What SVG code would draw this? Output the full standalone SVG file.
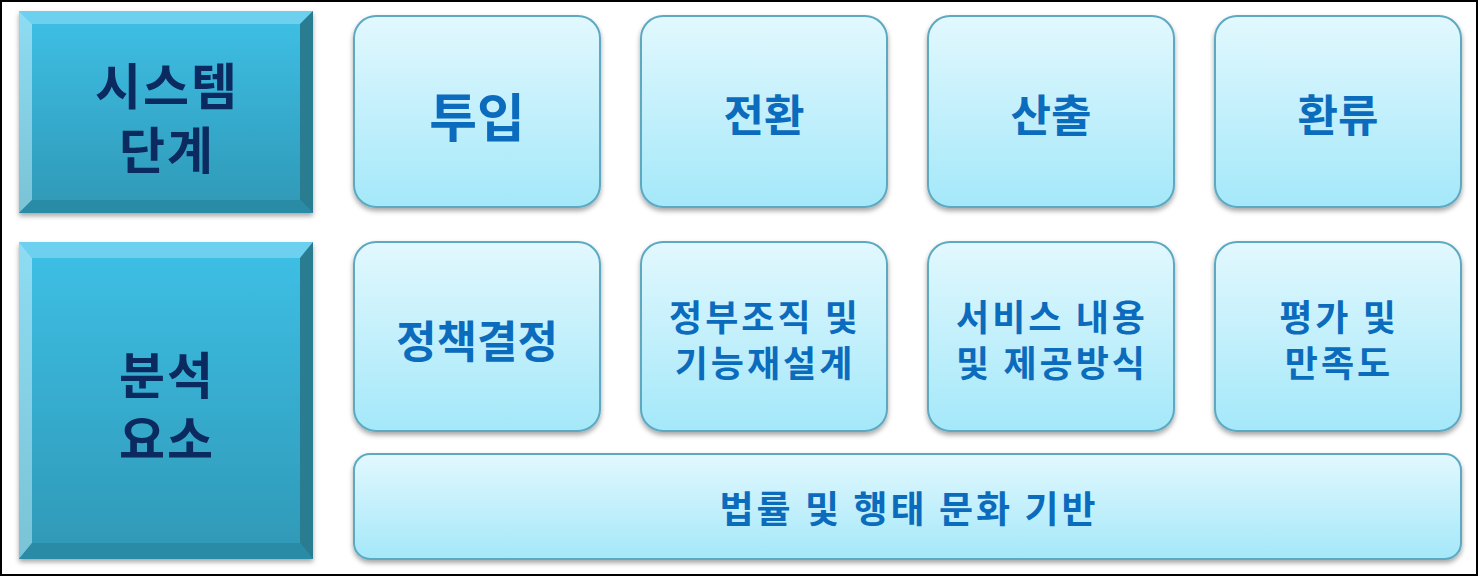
<svg xmlns="http://www.w3.org/2000/svg" width="1479" height="577" viewBox="0 0 1479 577">
<defs>
<linearGradient id="gBox" x1="0" y1="0" x2="0" y2="1">
<stop offset="0" stop-color="#e2f8fe"/>
<stop offset="1" stop-color="#a4e8f9"/>
</linearGradient>
<linearGradient id="gBev" x1="0" y1="0" x2="0" y2="1">
<stop offset="0" stop-color="#3ec0e6"/>
<stop offset="1" stop-color="#2f98b6"/>
</linearGradient>
<linearGradient id="gLeft" x1="0" y1="0" x2="0" y2="1">
<stop offset="0" stop-color="#8edcf3"/>
<stop offset="1" stop-color="#7ac3d6"/>
</linearGradient>
<filter id="sh" x="-10%" y="-10%" width="120%" height="130%">
<feDropShadow dx="0" dy="3" stdDeviation="2.5" flood-color="#000" flood-opacity="0.35"/>
</filter>
</defs>
<style>
.box{fill:url(#gBox);stroke:#5da9c2;stroke-width:2;filter:url(#sh)}
.lt{font-family:"Noto Sans CJK KR","Noto Sans",sans-serif;font-weight:bold;fill:#0b2a60;text-anchor:middle;font-size:50px;letter-spacing:2px}
.rt{font-family:"Noto Sans CJK KR","Noto Sans",sans-serif;font-weight:bold;fill:#0b6bbd;text-anchor:middle}
.top{fill:#6dd0ee}.rgt{fill:#2b7b91}.bot{fill:#2b8ba6}
</style>
<rect x="1" y="1" width="1476" height="574" fill="#fff" stroke="#000" stroke-width="2"/>

<g id="n-system">
<g filter="url(#sh)">
<rect x="19" y="11" width="294" height="202" fill="url(#gBev)"/>
<polygon class="top" points="19,11 313,11 300,24 32,24"/>
<polygon fill="url(#gLeft)" points="19,11 32,24 32,200 19,213"/>
<polygon class="rgt" points="313,11 313,213 300,200 300,24"/>
<polygon class="bot" points="19,213 313,213 300,200 32,200"/>
</g>
<text class="lt"><tspan x="167" y="105">시스템</tspan><tspan x="167" y="169">단계</tspan></text>
</g>

<g id="n-analysis">
<g filter="url(#sh)">
<rect x="19" y="242" width="294" height="317" fill="url(#gBev)"/>
<polygon class="top" points="19,242 313,242 300,258 32,258"/>
<polygon fill="url(#gLeft)" points="19,242 32,258 32,543 19,559"/>
<polygon class="rgt" points="313,242 313,559 300,543 300,258"/>
<polygon class="bot" points="19,559 313,559 300,543 32,543"/>
</g>
<text class="lt"><tspan x="167" y="394">분석</tspan><tspan x="167" y="458">요소</tspan></text>
</g>

<g id="n-input">
<rect class="box" x="354" y="16" width="246" height="191" rx="22"/>
<text class="rt" x="477" y="137" font-size="52">투입</text>
</g>
<g id="n-transform">
<rect class="box" x="641" y="16" width="246" height="191" rx="22"/>
<text class="rt" x="764" y="132" font-size="44">전환</text>
</g>
<g id="n-output">
<rect class="box" x="928" y="16" width="246" height="191" rx="22"/>
<text class="rt" x="1051" y="132" font-size="44">산출</text>
</g>
<g id="n-feedback">
<rect class="box" x="1215" y="16" width="246" height="191" rx="22"/>
<text class="rt" x="1338" y="132" font-size="44">환류</text>
</g>

<g id="n-policy">
<rect class="box" x="354" y="242" width="246" height="189" rx="22"/>
<text class="rt" x="477" y="358" font-size="44">정책결정</text>
</g>
<g id="n-org">
<rect class="box" x="641" y="242" width="246" height="189" rx="22"/>
<text class="rt" font-size="36" letter-spacing="3"><tspan x="765" y="331">정부조직 및</tspan><tspan x="765" y="377">기능재설계</tspan></text>
</g>
<g id="n-service">
<rect class="box" x="928" y="242" width="246" height="189" rx="22"/>
<text class="rt" font-size="36" letter-spacing="3"><tspan x="1052" y="331">서비스 내용</tspan><tspan x="1052" y="377">및 제공방식</tspan></text>
</g>
<g id="n-eval">
<rect class="box" x="1215" y="242" width="246" height="189" rx="22"/>
<text class="rt" font-size="36" letter-spacing="3"><tspan x="1339" y="331">평가 및</tspan><tspan x="1339" y="377">만족도</tspan></text>
</g>

<g id="n-base">
<rect class="box" x="354" y="454" width="1107" height="105" rx="16"/>
<text class="rt" x="909" y="523" font-size="37" letter-spacing="3">법률 및 행태 문화 기반</text>
</g>

<g id="connectors"/>
</svg>
